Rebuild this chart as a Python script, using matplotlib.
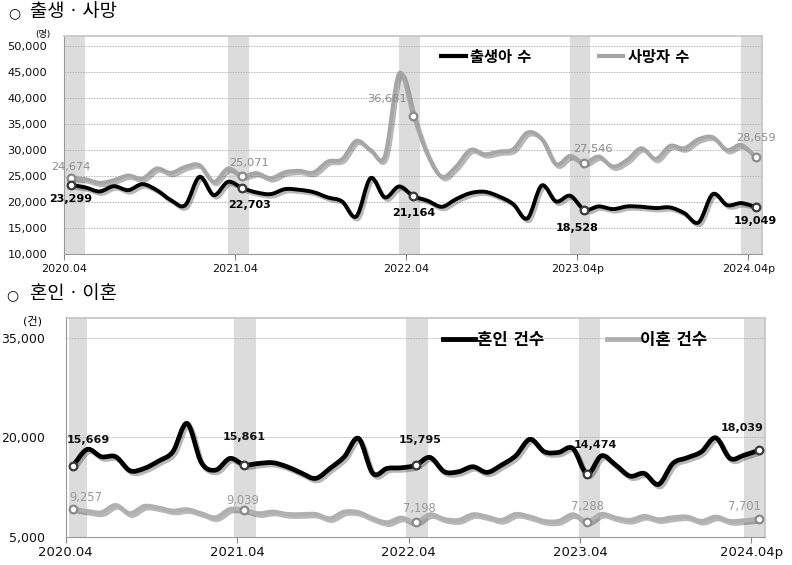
# 출생·사망 / 혼인·이혼 월별 추이
import numpy as np
import matplotlib
matplotlib.use("Agg")
import matplotlib.pyplot as plt
from matplotlib.path import Path
from matplotlib.patches import PathPatch
import matplotlib.patheffects as pe

# month index 0 = 2020.04 ... 48 = 2024.04
months = list(range(49))
label_idx = [0, 12, 24, 36, 48]
tick_pos = [-0.5, 11.5, 23.5, 35.5, 47.5]
top_ticklabels = ["2020.04", "2021.04", "2022.04", "2023.04p", "2024.04p"]
bottom_ticklabels = ["2020.04", "2021.04", "2022.04", "2023.04", "2024.04p"]

births = [23299, 22820, 22050, 23070, 22300, 23450, 22310, 20380, 19400, 24860,
          21340, 23900, 22703, 21860, 21540, 22500, 22370, 21920, 20900, 20130,
          17240, 24620, 20900, 23010, 21164, 20260, 19100, 20580, 21730, 21990,
          21090, 19620, 16860, 23200, 20130, 21220, 18528, 19170, 18650, 19170,
          19100, 18850, 18970, 17880, 16090, 21540, 19420, 19810, 19049]
deaths = [24674, 24420, 23720, 24230, 25130, 24550, 26470, 25640, 26790, 27120,
          23910, 26470, 25071, 25580, 24620, 25770, 26030, 25710, 27820, 28270,
          31800, 30060, 28910, 44800, 36681, 29100, 24900, 26860, 30060, 29230,
          29740, 30190, 33400, 32200, 27310, 28910, 27546, 28780, 26860, 28140,
          30380, 28330, 30830, 30380, 32120, 32500, 30060, 31030, 28659]
marriages = [15669, 18190, 17080, 17080, 14970, 15320, 16430, 17840, 22110, 16180,
             15070, 16830, 15861, 16070, 16180, 15570, 14620, 13810, 15320, 17080,
             19850, 14560, 15320, 15420, 15795, 16980, 14820, 14820, 15570, 14720,
             15820, 17230, 19720, 17840, 17740, 18340, 14474, 17230, 15820, 14160,
             14560, 12900, 16070, 16930, 17840, 19950, 16830, 17330, 18039]
divorces = [9257, 8880, 8680, 9780, 8530, 9630, 9380, 8930, 9130, 8530,
            7920, 9180, 9039, 8530, 8780, 8420, 8400, 8420, 7770, 8780,
            8680, 7770, 7170, 7870, 7198, 8370, 7670, 7520, 8370, 8020,
            7520, 8420, 8020, 7370, 7370, 8370, 7288, 8420, 7870, 7520,
            8120, 7620, 7920, 8020, 7370, 8020, 7370, 7470, 7701]

# shaded april columns
top_bands = [(-0.5, 1.0), (11.0, 12.5), (23.0, 24.45), (35.0, 36.4), (47.0, 48.45)]
bottom_bands = [(-0.3, 1.0), (11.3, 12.8), (23.35, 24.85), (35.45, 36.9), (47.0, 48.45)]


def smooth_path(x, y):
    # excel-like smoothed line (catmull-rom as cubic bezier)
    x = np.asarray(x, float)
    y = np.asarray(y, float)
    n = len(x)
    verts = [(x[0], y[0])]
    codes = [Path.MOVETO]
    for i in range(n - 1):
        xa, ya = (x[i - 1], y[i - 1]) if i > 0 else (x[i], y[i])
        xb, yb = (x[i + 2], y[i + 2]) if i + 2 < n else (x[i + 1], y[i + 1])
        c1 = (x[i] + (x[i + 1] - xa) / 6, y[i] + (y[i + 1] - ya) / 6)
        c2 = (x[i + 1] - (xb - x[i]) / 6, y[i + 1] - (yb - y[i]) / 6)
        verts += [c1, c2, (x[i + 1], y[i + 1])]
        codes += [Path.CURVE4] * 3
    return Path(verts, codes)


def draw_series(ax, y, color, lw, mec):
    shadow = [pe.SimpleLineShadow(offset=(1.5, -1.8), shadow_color="black", alpha=0.28),
              pe.Normal()]
    patch = PathPatch(smooth_path(months, y), fill=False, edgecolor=color, lw=lw,
                      capstyle="round", joinstyle="round", zorder=3, path_effects=shadow)
    ax.add_patch(patch)
    ax.plot([months[i] for i in label_idx], [y[i] for i in label_idx], "o",
            mfc="white", mec=mec, ms=5.5, mew=1.6, zorder=4)


def style_axes(ax, bands, xlabels, ylim, yticks, xfs, yfs, ypad):
    for a, b in bands:
        ax.axvspan(a, b, color="#dcdcdc", lw=0, zorder=0.2)
    ax.set_xlim(-0.5, 48.45)
    ax.set_ylim(*ylim)
    ax.set_xticks(tick_pos)
    ax.set_xticklabels(xlabels, fontsize=xfs)
    ax.set_yticks(yticks)
    ax.set_yticklabels([f"{v:,}" for v in yticks], fontsize=yfs)
    ax.tick_params(axis="y", length=0, pad=ypad, colors="#111")
    ax.tick_params(axis="x", length=4, width=0.8, color="#888", pad=3, colors="#111")
    ax.set_axisbelow(True)
    ax.yaxis.grid(True, linestyle=(0, (2, 1.2)), color="#b4b4b4", lw=0.6)
    for s in ["left", "bottom"]:
        ax.spines[s].set_color("#999999")
    for s in ["top", "right"]:
        ax.spines[s].set_color("#c4c4c4")
        ax.spines[s].set_linewidth(1.2)


def add_labels(ax, y, offsets, color, weight, fs):
    for i, (dx, dy) in zip(label_idx, offsets):
        ax.annotate(f"{y[i]:,}", (months[i], y[i]), xytext=(dx, dy),
                    textcoords="offset points", ha="center", va="center",
                    fontsize=fs, fontweight=weight, color=color, zorder=5)


def main():
    plt.rcParams["font.family"] = ["DejaVu Sans", "Noto Sans CJK KR"]
    fig = plt.figure(figsize=(7.92, 5.65), dpi=100)

    # ---- 출생 · 사망
    ax1 = fig.add_axes([64 / 792, 1 - 254 / 565, 698 / 792, 218 / 565])
    style_axes(ax1, top_bands, top_ticklabels, (10000, 52000),
               list(range(10000, 50001, 5000)), 8, 8.2, 12)
    draw_series(ax1, deaths, "#a6a6a6", 2.8, "#8a8a8a")
    draw_series(ax1, births, "black", 2.8, "#3a3a3a")
    add_labels(ax1, births, [(0, -10), (5, -12), (0, -12), (-5, -13), (0, -10)],
               "black", "bold", 8)
    add_labels(ax1, deaths, [(0, 8), (5, 9), (-19, 12), (6, 10), (0, 14)],
               "#8c8c8c", "normal", 8.2)
    h1, = ax1.plot([], [], color="black", lw=3)
    h2, = ax1.plot([], [], color="#a6a6a6", lw=3)
    ax1.legend([h1, h2], ["출생아 수", "사망자 수"], loc="upper center",
               bbox_to_anchor=(0.718, 1.0), ncol=2, frameon=False, handlelength=1.6,
               handletextpad=0.3, columnspacing=4.4,
               prop={"size": 11, "weight": "bold"})

    fig.text(8 / 792, 1 - 13 / 565, "○", fontsize=10, va="center")
    fig.text(30 / 792, 1 - 12 / 565, "출생 · 사망", fontsize=13.5, va="center")
    fig.text(43 / 792, 1 - 34 / 565, "(명)", fontsize=6.5, ha="center", va="center")

    # ---- 혼인 · 이혼
    ax2 = fig.add_axes([65.7 / 792, 1 - 536.7 / 565, 699.3 / 792, 218.4 / 565])
    style_axes(ax2, bottom_bands, bottom_ticklabels, (5000, 38000),
               [5000, 20000, 35000], 9.5, 9, 15)
    draw_series(ax2, divorces, "#b0b0b0", 3.0, "#8a8a8a")
    draw_series(ax2, marriages, "black", 3.4, "#3a3a3a")
    add_labels(ax2, marriages, [(11, 19), (0, 20), (3, 18), (6, 21), (-12, 16)],
               "#111111", "bold", 8)
    add_labels(ax2, divorces, [(9, 8), (-1, 7), (3, 10), (0, 11), (-10, 9)],
               "#999999", "normal", 8.3)
    h3, = ax2.plot([], [], color="black", lw=3.5)
    h4, = ax2.plot([], [], color="#b0b0b0", lw=3.5)
    ax2.legend([h3, h4], ["혼인 건수", "이혼 건수"], loc="upper center",
               bbox_to_anchor=(0.729, 1.01), ncol=2, frameon=False, handlelength=1.9,
               handletextpad=0.1, columnspacing=3.8,
               prop={"size": 12, "weight": "bold"})

    fig.text(6 / 792, 1 - 295 / 565, "○", fontsize=10, va="center")
    fig.text(30 / 792, 1 - 294 / 565, "혼인 · 이혼", fontsize=13.5, va="center")
    fig.text(32 / 792, 1 - 321 / 565, "(건)", fontsize=8, ha="center", va="center")

    fig.savefig("out.png", dpi=100)
    print('done')


if __name__ == "__main__":
    main()
